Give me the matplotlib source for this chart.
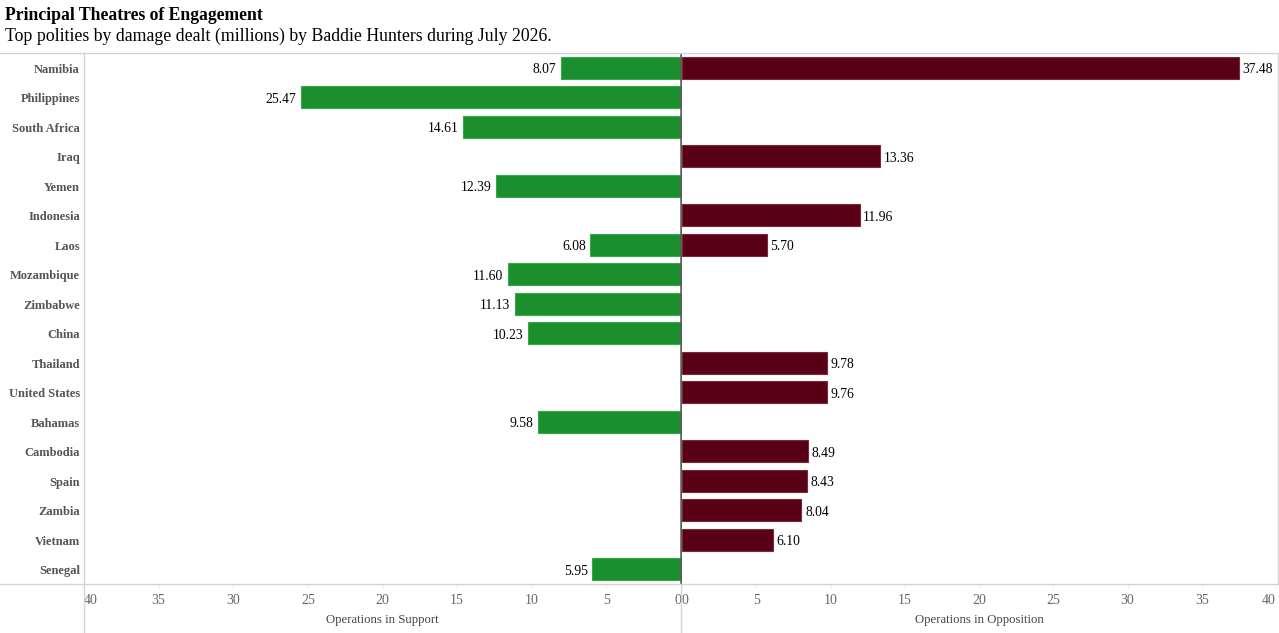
import numpy as np
import matplotlib.pyplot as plt
from matplotlib.lines import Line2D
from matplotlib.transforms import offset_copy

plt.rcParams['font.family'] = ['Liberation Serif', 'DejaVu Serif']

# Data
countries = ['Namibia', 'Philippines', 'South Africa', 'Iraq', 'Yemen', 'Indonesia',
             'Laos', 'Mozambique', 'Zimbabwe', 'China', 'Thailand', 'United States',
             'Bahamas', 'Cambodia', 'Spain', 'Zambia', 'Vietnam', 'Senegal']
support = [8.07, 25.47, 14.61, None, 12.39, None, 6.08, 11.60, 11.13, 10.23,
           None, None, 9.58, None, None, None, None, 5.95]
opposition = [37.48, None, None, 13.36, None, 11.96, 5.70, None, None, None,
              9.78, 9.76, None, 8.49, 8.43, 8.04, 6.10, None]
ticks = [0, 5, 10, 15, 20, 25, 30, 35, 40]

W, H = 1279, 633
fig = plt.figure(figsize=(W / 100, H / 100), dpi=100)

top, bottom = 53, 584
x_left, x_mid, x_right = 84, 681, 1276

ax_l = fig.add_axes([x_left / W, (H - bottom) / H, (x_mid - x_left) / W, (bottom - top) / H])
ax_r = fig.add_axes([(x_mid + 1) / W, (H - bottom) / H, (x_right - x_mid - 1) / W, (bottom - top) / H])

green, green_edge = '#1b8f2e', '#35a84a'
red, red_edge = '#5a0016', '#7a2a3a'
grid_c = '#d4d4d4'
text_gray = '#666666'

y = np.arange(len(countries))
sup = np.array([np.nan if v is None else v for v in support])
opp = np.array([np.nan if v is None else v for v in opposition])

ax_l.barh(y, sup, height=0.75, color=green, edgecolor=green_edge, linewidth=0.8)
ax_r.barh(y, opp, height=0.75, color=red, edgecolor=red_edge, linewidth=0.8)

tl = offset_copy(ax_l.transData, fig=fig, y=-2, units='dots')
tr = offset_copy(ax_r.transData, fig=fig, y=-2, units='dots')
for i in range(len(countries)):
    if not np.isnan(sup[i]):
        ax_l.text(sup[i] + 0.3, i, f'{sup[i]:.2f}', ha='right', va='center', fontsize=9.8,
                  color='black', transform=tl)
    if not np.isnan(opp[i]):
        ax_r.text(opp[i] + 0.25, i, f'{opp[i]:.2f}', ha='left', va='center', fontsize=9.8,
                  color='black', transform=tr)

for ax in (ax_l, ax_r):
    ax.set_ylim(len(countries) - 0.5, -0.5)
    ax.set_yticks([])
    for s in ax.spines.values():
        s.set_visible(False)
    ax.set_xticks(ticks)
    ax.set_xticklabels([str(t) for t in ticks])
    ax.tick_params(axis='x', length=3, width=0.6, color='#e6e6e6', labelsize=10,
                   labelcolor=text_gray, pad=4)

ax_l.set_xlim(40, 0)
ax_r.set_xlim(0, 40)

# edge tick labels kept inside the panes
ax_l.get_xticklabels()[-1].set_ha('left')
ax_l.get_xticklabels()[0].set_ha('right')
ax_r.get_xticklabels()[0].set_ha('left')
ax_r.get_xticklabels()[-1].set_ha('right')

ax_l.set_xlabel('Operations in Support', fontsize=9.2, color='#444444', labelpad=5)
ax_r.set_xlabel('Operations in Opposition', fontsize=9.2, color='#444444', labelpad=5)

# zero line
ax_l.axvline(0, color='#5c5c5c', linewidth=1.8, zorder=5, clip_on=False,
             solid_capstyle='butt')

# row labels
for i, c in enumerate(countries):
    yy = top + (i + 0.5) * (bottom - top) / len(countries) + 2
    fig.text(80 / W, 1 - yy / H, c, ha='right', va='center', fontsize=9,
             fontweight='bold', color='#555555')

# frame lines
def fline(x0, y0, x1, y1, c=grid_c, lw=1.0):
    fig.add_artist(Line2D([x0 / W, x1 / W], [1 - y0 / H, 1 - y1 / H], color=c, linewidth=lw))

fline(0, top, W, top)
fline(0, bottom, W, bottom)
fline(x_left, top, x_left, H)
fline(x_mid, bottom, x_mid, H)
fline(W - 1, top, W - 1, bottom)

fig.text(5 / W, 1 - 16 / H, 'Principal Theatres of Engagement', ha='left', va='center',
         fontsize=12.7, fontweight='bold', color='black')
fig.text(5 / W, 1 - 36 / H, 'Top polities by damage dealt (millions) by Baddie Hunters during July 2026.',
         ha='left', va='center', fontsize=12.75, color='black')

fig.savefig('out.png', dpi=100)
